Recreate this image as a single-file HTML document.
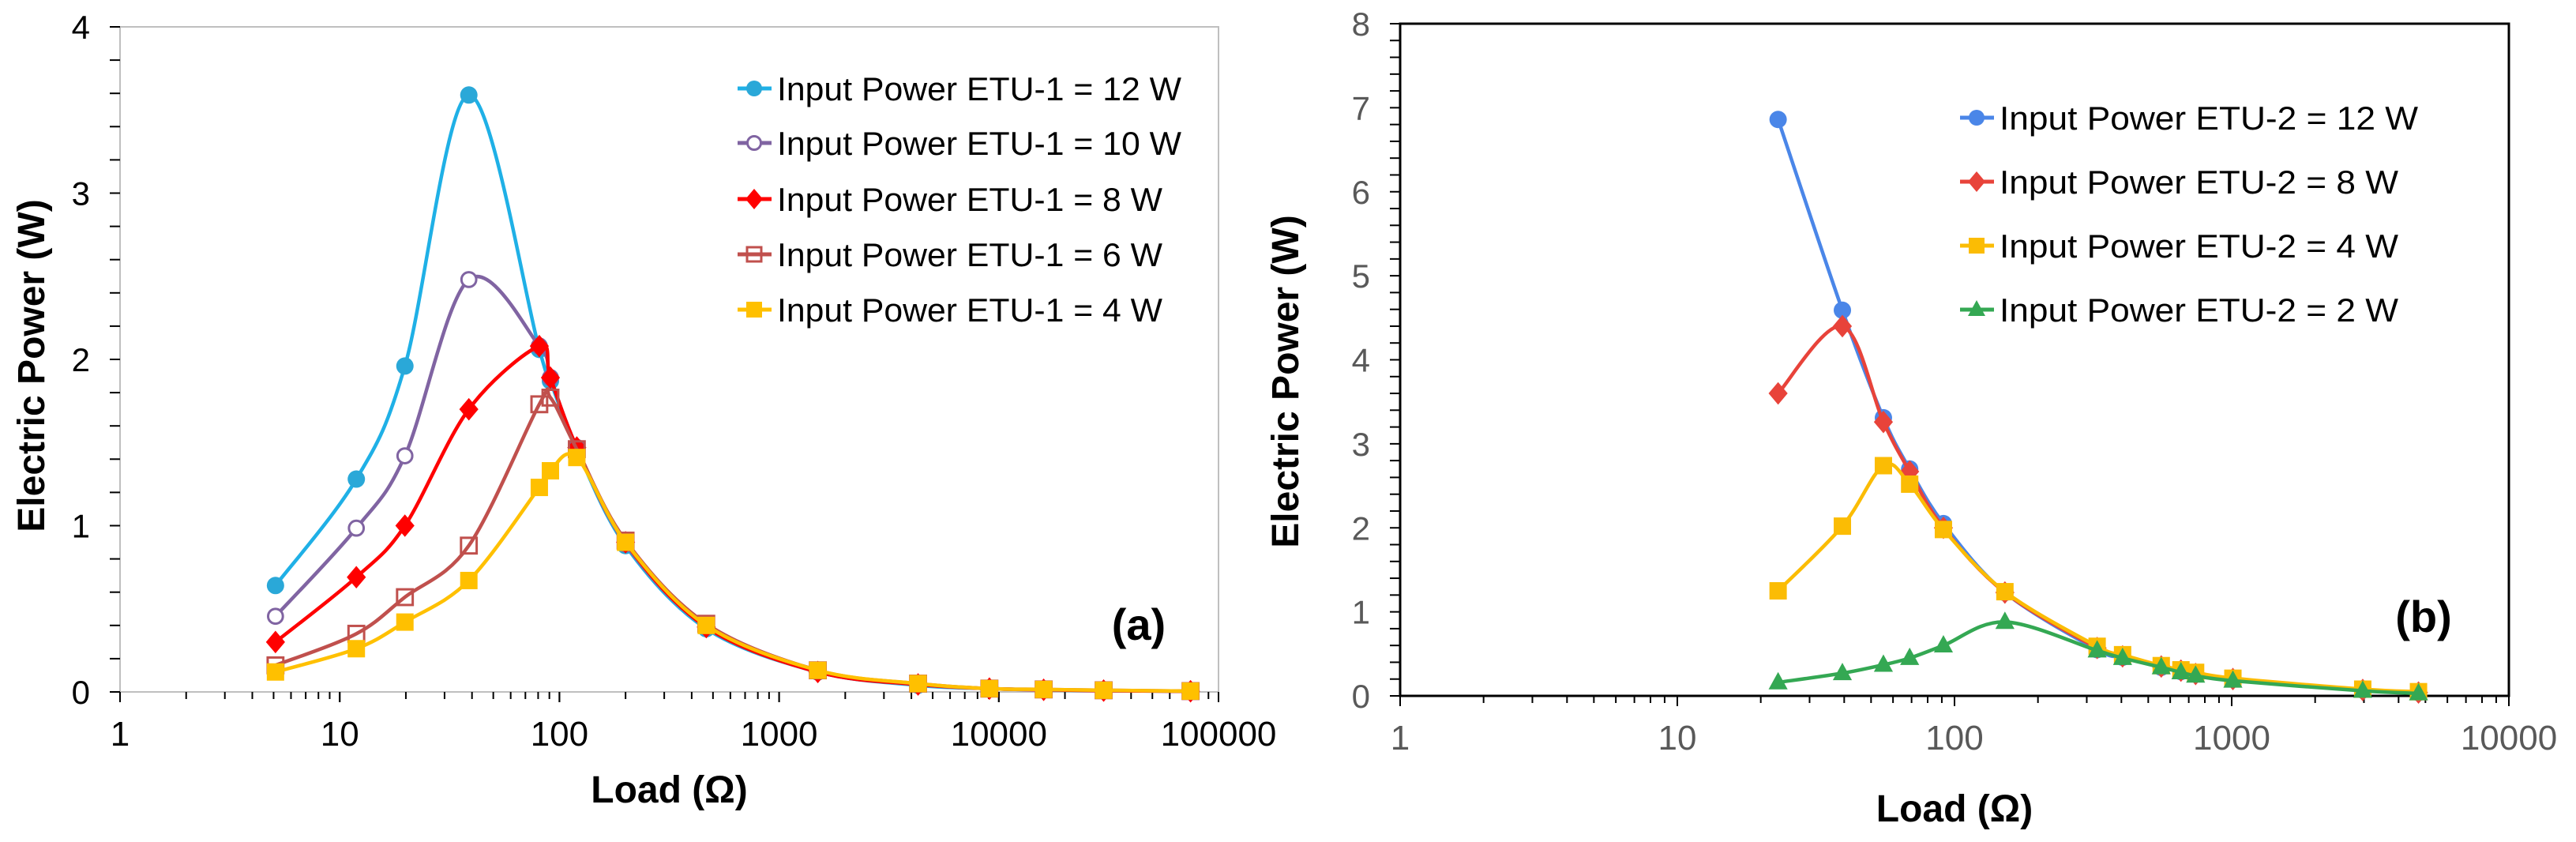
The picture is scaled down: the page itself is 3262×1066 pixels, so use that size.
<!DOCTYPE html>
<html><head><meta charset="utf-8"><style>
html,body{margin:0;padding:0;background:#fff}
svg{display:block;font-family:"Liberation Sans",Arial,sans-serif}
</style></head><body>
<svg id="svg" width="3262" height="1066" viewBox="0 0 3262 1066">
<g id="ca"></g>
<g id="cb"></g>
</svg>
<script>
const NS="http://www.w3.org/2000/svg";
// ---- Chart (a) data ----
const aLoads=[5.1,11.9,19.8,38.7,81,91,120,200,466,1500,4290,9060,16000,30000,74600];
const a12=[0.64,1.28,1.96,3.59,2.06,1.87,1.46,0.88,0.38,0.12,0.04,0.02,0.012,0.008,0.004];
const a10=[0.455,0.985,1.42,2.48,2.08,1.89,1.47,0.89,0.39,0.12,0.045,0.02,0.013,0.008,0.004];
const a8=[0.30,0.69,1.0,1.70,2.08,1.89,1.47,0.90,0.39,0.12,0.045,0.02,0.013,0.008,0.004];
const a6=[0.16,0.35,0.57,0.88,1.73,1.77,1.46,0.91,0.41,0.13,0.05,0.02,0.015,0.01,0.005];
const a4=[0.12,0.26,0.42,0.67,1.23,1.33,1.41,0.90,0.40,0.13,0.05,0.02,0.015,0.01,0.005];
const aXTicks=["1","10","100","1000","10000","100000"];
const aYTicks=["0","1","2","3","4"];
// ---- Chart (b) data ----
const bLoads=[23.1,39.4,55.4,68.9,91.2,152,327,404,557,656,741,1010,2970,4720];
const b12=[6.86,4.59,3.31,2.70,2.05,1.23,0.55,0.46,0.34,0.29,0.26,0.20,0.07,0.04];
const b8=[3.60,4.40,3.26,2.67,2.00,1.23,0.57,0.47,0.35,0.30,0.26,0.20,0.07,0.04];
const b4=[1.25,2.02,2.74,2.52,1.98,1.24,0.59,0.49,0.36,0.31,0.28,0.21,0.08,0.05];
const b2=[0.16,0.27,0.37,0.45,0.60,0.88,0.54,0.45,0.34,0.28,0.24,0.18,0.06,0.03];
const bXTicks=["1","10","100","1000","10000"];
const bYTicks=["0","1","2","3","4","5","6","7","8"];

function el(p,t,a){const e=document.createElementNS(NS,t);for(const k in a)e.setAttribute(k,a[k]);p.appendChild(e);return e;}
function smooth(pts){
  let d="M"+pts[0][0]+","+pts[0][1];
  for(let i=0;i<pts.length-1;i++){
    const p0=pts[i-1]||pts[i],p1=pts[i],p2=pts[i+1],p3=pts[i+2]||p2;
    const t=1/6;
    d+=" C"+(p1[0]+(p2[0]-p0[0])*t)+","+(p1[1]+(p2[1]-p0[1])*t)+" "+(p2[0]-(p3[0]-p1[0])*t)+","+(p2[1]-(p3[1]-p1[1])*t)+" "+p2[0]+","+p2[1];
  }
  return d;
}
function marker(g,type,x,y,c,s){
  let m;
  if(type==="circle")m=el(g,"circle",{cx:x,cy:y,r:s,fill:c});
  else if(type==="ocircle")m=el(g,"circle",{cx:x,cy:y,r:s*0.85,fill:"#fff",stroke:c,"stroke-width":3});
  else if(type==="diamond")m=el(g,"polygon",{points:`${x},${y-s*1.3} ${x+s*1.1},${y} ${x},${y+s*1.3} ${x-s*1.1},${y}`,fill:c});
  else if(type==="square")m=el(g,"rect",{x:x-s,y:y-s,width:2*s,height:2*s,fill:c});
  else if(type==="osquare")m=el(g,"rect",{x:x-s*0.9,y:y-s*0.9,width:1.8*s,height:1.8*s,fill:"none",stroke:c,"stroke-width":3});
  else m=el(g,"polygon",{points:`${x},${y-s*1.2} ${x+s*1.1},${y+s*0.8} ${x-s*1.1},${y+s*0.8}`,fill:c});
  return m;
}
function chart(cfg){
  const g=document.getElementById(cfg.id);
  const L=cfg.L,R=cfg.R,T=cfg.T,B=cfg.B;
  const xs=v=>L+(Math.log10(v)-0)/cfg.dec*(R-L);
  const ys=v=>B-v/cfg.ymax*(B-T);
  const frame=el(g,"rect",{x:L,y:T,width:R-L,height:B-T,fill:"none",stroke:cfg.frame,"stroke-width":cfg.fw});
  
  
  // y ticks
  for(let v=0;v<=cfg.ymax+1e-9;v+=0.2){
    const y=ys(v);const major=Math.abs(v-Math.round(v))<1e-6;
    el(g,"line",{x1:L-13,x2:L,y1:y,y2:y,stroke:"#000","stroke-width":2});
  }
  cfg.yt.forEach((t,i)=>{
    const tx=el(g,"text",{x:L-38,y:ys(+t)+15,"text-anchor":"end","font-size":42,fill:cfg.tc});
    tx.textContent=t;
    
    
  });
  // x ticks
  for(let d=0;d<cfg.dec;d++){
    for(let k=1;k<=10;k++){
      const x=xs(Math.pow(10,d)*k);
      el(g,"line",{x1:x,x2:x,y1:B,y2:B+(k===1||k===10?13:9),stroke:"#000","stroke-width":2});
    }
  }
  cfg.xt.forEach((t,i)=>{
    const tx=el(g,"text",{x:xs(+t),y:B+68,"text-anchor":"middle","font-size":44,fill:cfg.tc});
    tx.textContent=t;
    
    
  });
  const xt=el(g,"text",{x:(L+R)/2,y:cfg.xty,"text-anchor":"middle","font-size":48,"font-weight":"bold"});
  xt.textContent="Load (Ω)";
  
  
  const yt=el(g,"text",{x:0,y:0,"text-anchor":"middle","font-size":48,"font-weight":"bold",transform:`translate(${cfg.ytx},${cfg.yty}) rotate(-90)`});
  yt.textContent="Electric Power (W)";
  
  
  const pl=el(g,"text",{x:cfg.px,y:cfg.py,"text-anchor":"middle","font-size":56,"font-weight":"bold"});
  pl.textContent=cfg.panel;
  
  
  // series
  cfg.series.forEach((s,si)=>{
    const sg=el(g,"g",{});
    
    
    const pts=s.v.map((v,i)=>[xs(cfg.loads[i]),ys(v)]);
    el(sg,"path",{d:cfg.smooth?smooth(pts):("M"+pts.map(p=>p.join(",")).join(" L")),fill:"none",stroke:s.c,"stroke-width":4.5});
    pts.forEach(p=>{
      const m=marker(sg,s.m,p[0],p[1],s.mc||s.c,11);
      
      
    });
    const ly=cfg.ly[si];
    const lg=el(g,"g",{});
    
    
    el(lg,"line",{x1:cfg.lx,x2:cfg.lx+43,y1:ly,y2:ly,stroke:s.c,"stroke-width":5});
    marker(lg,s.m,cfg.lx+21,ly,s.mc||s.c,10);
    const lt=el(lg,"text",{x:cfg.lx+50,y:ly+15,"font-size":42,textLength:s.tl,lengthAdjust:"spacingAndGlyphs"});
    lt.textContent=s.label;
  });
}
chart({id:"ca",L:152,R:1543,T:34,B:876,dec:5,ymax:4,frame:"#bfbfbf",fw:2,tc:"#000",
  xt:aXTicks,yt:aYTicks,xty:1016,ytx:56,yty:463,panel:"(a)",px:1442,py:810,loads:aLoads,smooth:true,
  lx:934,ly:[112,181,252,322,392],
  series:[
   {key:"12w",v:a12,c:"#1fb0e6",mc:"#2aa8d8",m:"circle",label:"Input Power ETU-1 = 12 W",tl:512},
   {key:"10w",v:a10,c:"#8064a2",m:"ocircle",label:"Input Power ETU-1 = 10 W",tl:512},
   {key:"8w",v:a8,c:"#ff0000",m:"diamond",label:"Input Power ETU-1 = 8 W",tl:488},
   {key:"6w",v:a6,c:"#c0504d",m:"osquare",label:"Input Power ETU-1 = 6 W",tl:488},
   {key:"4w",v:a4,c:"#ffc000",m:"square",label:"Input Power ETU-1 = 4 W",tl:488}]});
chart({id:"cb",L:1773,R:3177,T:30,B:881,dec:4,ymax:8,frame:"#000",fw:3,tc:"#595959",
  xt:bXTicks,yt:bYTicks,xty:1040,ytx:1644,yty:483,panel:"(b)",px:3069,py:800,loads:bLoads,smooth:true,
  lx:2482,ly:[149,230,311,392],
  series:[
   {key:"12w",v:b12,c:"#4a86e8",m:"circle",label:"Input Power ETU-2 = 12 W",tl:530},
   {key:"8w",v:b8,c:"#e8433a",m:"diamond",label:"Input Power ETU-2 = 8 W",tl:505},
   {key:"4w",v:b4,c:"#fbbc04",m:"square",label:"Input Power ETU-2 = 4 W",tl:505},
   {key:"2w",v:b2,c:"#34a853",m:"triangle",label:"Input Power ETU-2 = 2 W",tl:505}]});
</script>
</body></html>
